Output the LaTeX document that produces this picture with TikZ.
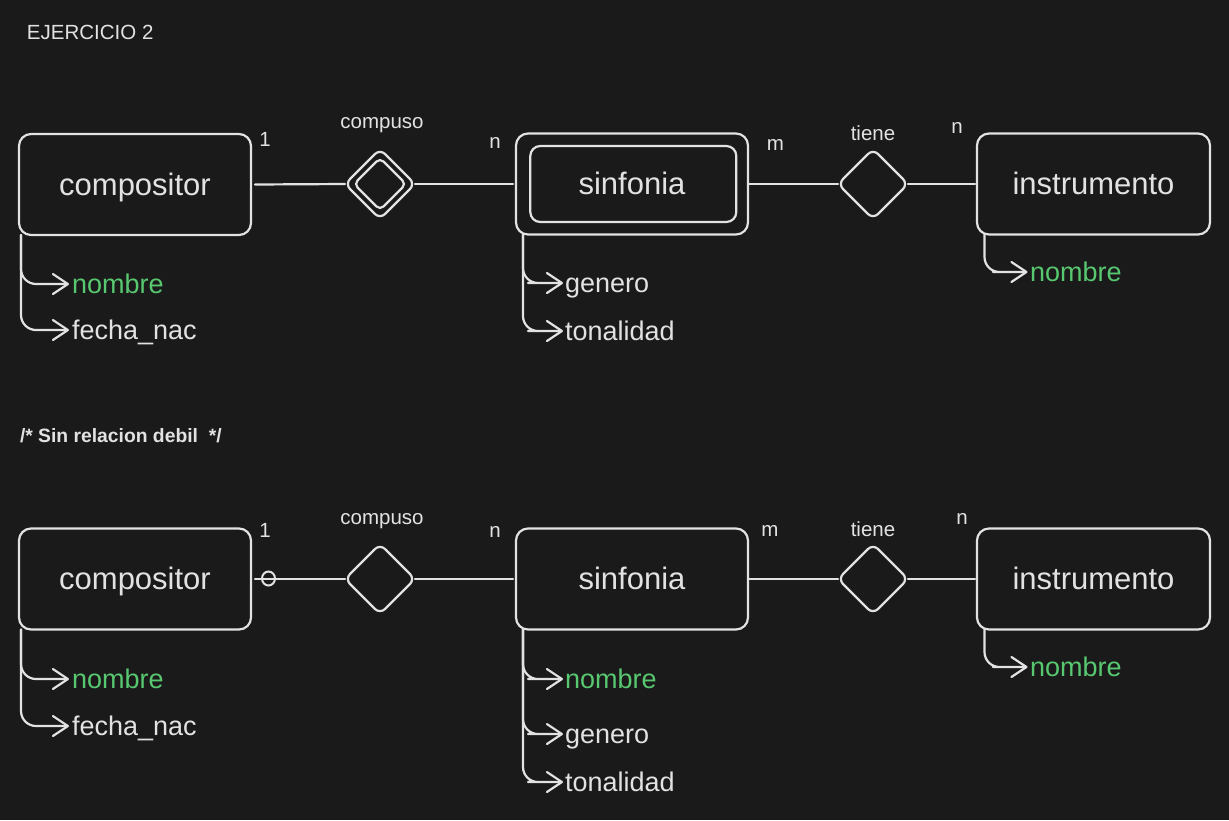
\documentclass[tikz,border=0pt]{standalone}
\usepackage{fontspec}
\setmainfont{Liberation Sans}
\usetikzlibrary{shapes.geometric,arrows.meta}
\definecolor{bg}{RGB}{26,26,26}
\definecolor{ink}{RGB}{226,226,226}
\definecolor{keygreen}{RGB}{88,200,112}
\tikzset{
  x=1pt,y=-1pt,
  every node/.style={inner sep=0pt,outer sep=0pt,text=ink},
  entity/.style={draw=ink,line width=2.2pt,rounded corners=12pt,rectangle,
    minimum width=232pt,minimum height=101pt,font=\fontsize{31}{31}\selectfont,
    text height=27.3pt,text depth=6.2pt},
  entitytext/.style={font=\fontsize{31}{31}\selectfont,text height=27.3pt,text depth=6.2pt},
  innerbox/.style={draw=ink,line width=2.2pt,rounded corners=10pt,rectangle,
    minimum width=206pt,minimum height=76pt},
  rel/.style={draw=ink,line width=2.2pt,diamond,aspect=1,rounded corners=7pt,
    minimum width=70pt,minimum height=70pt},
  innerrel/.style={draw=ink,line width=2.2pt,diamond,aspect=1,rounded corners=5pt,
    minimum width=52pt,minimum height=52pt},
  lbl/.style={font=\fontsize{20.5}{20.5}\selectfont,text height=19pt,text depth=4.1pt},
  attr/.style={anchor=west,font=\fontsize{27}{27}\selectfont,text height=24.4pt,text depth=5.4pt},
  keyattr/.style={attr,text=keygreen},
  conn/.style={draw=ink,line width=2.2pt,line cap=round},
  attrline/.style={draw=ink,line width=2.2pt,line cap=round,line join=round,
    -{Straight Barb[length=15pt,width=20pt,line cap=round,line join=round]}},
  elbow/.style={rounded corners=15pt},
}
\begin{document}
\begin{tikzpicture}
\useasboundingbox[fill=bg] (0,0) rectangle (1229,820);

% title and comment
\node[anchor=base west,font=\fontsize{20.5}{20.5}\selectfont] (title) at (27,39) {EJERCICIO 2};
\node[anchor=base west,font=\bfseries\fontsize{19.3}{19.3}\selectfont] (comment) at (20,442) {/* Sin relacion debil\ \ */};

% ===== top diagram =====
\node[entity] (c1) at (135,184.5) {compositor};
\node[entity] (s1) at (632,184) {};
\node[innerbox] (s1in) at (633.3,184) {};
\node[entitytext] (s1t) at (632,184) {sinfonia};
\node[entity,minimum width=233pt] (i1) at (1093.5,184) {instrumento};
\node[rel] (r1) at (380,184) {};
\node[innerrel] (r1in) at (380,184) {};
\node[rel] (t1) at (873,184) {};

\node[lbl] (r1l) at (382,121) {compuso};
\node[lbl] (t1l) at (873,133) {tiene};
\node[lbl] (c1k) at (265,139.5) {1};
\node[lbl] (s1k) at (495,141) {n};
\node[lbl] (s1m) at (775.5,143.5) {m};
\node[lbl] (i1k) at (957,126) {n};

\draw[conn] ([xshift=4pt]c1.east) -- (r1.west);
\draw[conn] (r1.east) -- ([xshift=-3pt]s1.west);
\draw[conn] (s1.east) -- (t1.west);
\draw[conn] (t1.east) -- ([xshift=-2pt]i1.west);

\node[keyattr] (c1a) at (72,284) {nombre};
\node[attr] (c1b) at (72,330) {fecha\_nac};
\node[attr] (s1a) at (565,283) {genero};
\node[attr] (s1b) at (565,331) {tonalidad};
\node[keyattr] (i1a) at (1030,272) {nombre};

\draw[attrline] ([xshift=2pt]c1.south west) [elbow] |- ([xshift=-22pt]c1a.west) [sharp corners] -- ([xshift=-3pt]c1a.west);
\draw[attrline] ([xshift=2pt]c1.south west) [elbow] |- ([xshift=-22pt]c1b.west) [sharp corners] -- ([xshift=-3pt]c1b.west);
\draw[attrline] ([xshift=7pt]s1.south west) [elbow] |- ([xshift=-22pt]s1a.west) [sharp corners] -- ([xshift=-2pt]s1a.west);
\draw[attrline] ([xshift=7pt]s1.south west) [elbow] |- ([xshift=-22pt]s1b.west) [sharp corners] -- ([xshift=-2pt]s1b.west);
\draw[attrline] ([xshift=7.5pt]i1.south west) [elbow] |- ([xshift=-22pt]i1a.west) [sharp corners] -- ([xshift=-2.5pt]i1a.west);

% ===== bottom diagram =====
\node[entity] (c2) at (135,579) {compositor};
\node[entity] (s2) at (632,579) {sinfonia};
\node[entity,minimum width=233pt] (i2) at (1093.5,579) {instrumento};
\node[rel] (r2) at (380,579) {};
\node[rel] (t2) at (873,579) {};

\node[lbl] (r2l) at (382,517) {compuso};
\node[lbl] (t2l) at (873,529) {tiene};
\node[lbl] (c2k) at (265,529.7) {1};
\node[lbl] (s2k) at (495,530) {n};
\node[lbl] (s2m) at (770,529) {m};
\node[lbl] (i2k) at (962,517) {n};

\draw[conn] ([xshift=4pt]c2.east) -- (r2.west);
\draw[conn] (r2.east) -- ([xshift=-3pt]s2.west);
\draw[conn] (s2.east) -- (t2.west);
\draw[conn] (t2.east) -- ([xshift=-2pt]i2.west);
\node[draw=ink,line width=2pt,ellipse,minimum width=13pt,minimum height=14pt] (opt) at (268.5,578.5) {};

\node[keyattr] (c2a) at (72,679) {nombre};
\node[attr] (c2b) at (72,726) {fecha\_nac};
\node[keyattr] (s2a) at (565,679) {nombre};
\node[attr] (s2b) at (565,734) {genero};
\node[attr] (s2c) at (565,782) {tonalidad};
\node[keyattr] (i2a) at (1030,667) {nombre};

\draw[attrline] ([xshift=2pt]c2.south west) [elbow] |- ([xshift=-22pt]c2a.west) [sharp corners] -- ([xshift=-3pt]c2a.west);
\draw[attrline] ([xshift=2pt]c2.south west) [elbow] |- ([xshift=-22pt]c2b.west) [sharp corners] -- ([xshift=-3pt]c2b.west);
\draw[attrline] ([xshift=7pt]s2.south west) [elbow] |- ([xshift=-22pt]s2a.west) [sharp corners] -- ([xshift=-2pt]s2a.west);
\draw[attrline] ([xshift=7pt]s2.south west) [elbow] |- ([xshift=-22pt]s2b.west) [sharp corners] -- ([xshift=-2pt]s2b.west);
\draw[attrline] ([xshift=7pt]s2.south west) [elbow] |- ([xshift=-22pt]s2c.west) [sharp corners] -- ([xshift=-2pt]s2c.west);
\draw[attrline] ([xshift=7.5pt]i2.south west) [elbow] |- ([xshift=-22pt]i2a.west) [sharp corners] -- ([xshift=-2.5pt]i2a.west);
\end{tikzpicture}
\end{document}
